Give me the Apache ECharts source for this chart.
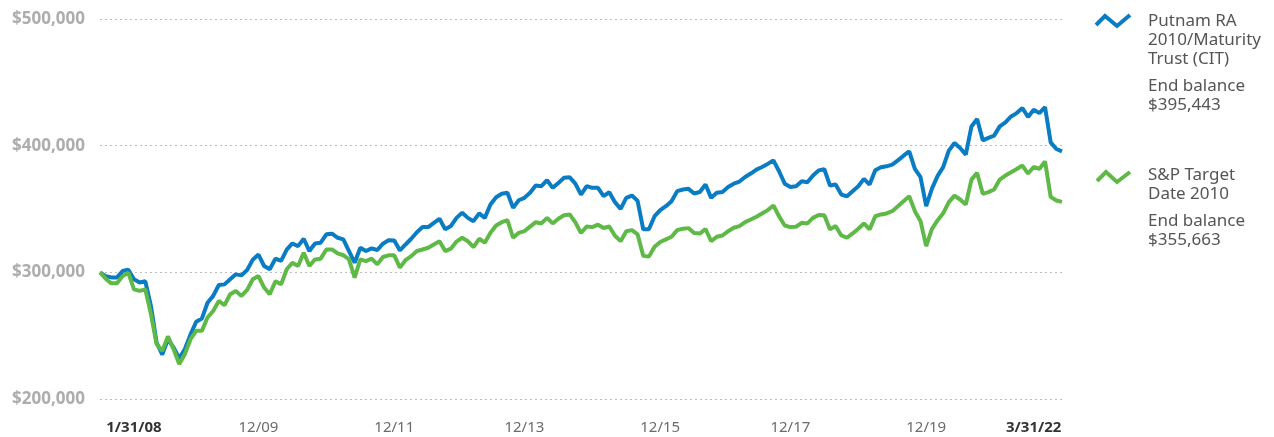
<!DOCTYPE html>
<html lang="en">
<head>
    <meta charset="UTF-8">
    <title>Growth of $300,000</title>
    <script src="https://cdn.jsdelivr.net/npm/echarts@6/dist/echarts.min.js"></script>
    <style>
        html, body { margin: 0; padding: 0; background: #fff; }
    </style>
</head>
<body>
<div id="chart" style="width:1274px;height:437px;"></div>
<script>
    // month-end balances, in thousands of dollars (Jan 2008 .. Mar 2022)
    var putnam = [
        300, 297, 296, 296, 301, 302, 294.5, 292, 293, 273.5, 244.6, 235,
        247, 240.7, 232, 239.4, 251, 261, 263.5, 276, 281.4, 290, 290.5, 294.5,
        298.4, 297.6, 301.8, 310, 314, 305, 302.4, 310.8, 309, 318, 322.8, 320.7,
        326.5, 316.8, 322.8, 323.4, 330, 330.5, 327.3, 326, 316.8, 307.6, 319.4, 316.8,
        318.9, 317.6, 322.6, 325.4, 325.2, 317.3, 322, 326.5, 331.7, 335.7, 335.7, 339.1,
        342.3, 333.9, 336.5, 343, 347, 343, 340.4, 346.5, 343, 353.5, 359.3, 362,
        362.8, 350.9, 356.9, 358.8, 362.8, 368.5, 368, 372.7, 366.7, 370.6, 374.6, 375.1,
        370, 361.4, 368, 366.7, 366.7, 360.1, 363.3, 355.4, 350.1, 358.8, 360.6, 356.5,
        334, 334, 344.3, 349.1, 352.2, 356.2, 364.1, 365.4, 365.9, 362.2, 363.4, 369.3,
        358.8, 362.8, 363.5, 367.4, 370, 371.7, 375.3, 378, 381.1, 383.2, 385.6, 388.4,
        379.8, 370, 367.4, 368, 371.9, 371.1, 376.4, 380.5, 381.4, 368.5, 369.3, 361.4,
        360.1, 364.1, 368, 373.8, 369.3, 380.6, 383, 383.7, 385, 388.4, 392.1, 395.5,
        381.6, 375.1, 352.2, 365.9, 376, 383, 396.1, 402.1, 398.2, 392.9, 415.2, 421,
        404.2, 406.1, 407.9, 415.2, 418.4, 423.1, 425.7, 429.7, 422.6, 428.3, 425.7, 430.5,
        402.6, 397.4, 395.443
    ];
    var benchmark = [
        300, 295, 291.3, 291.3, 297, 299.7, 286.6, 285.3, 286.6, 267, 243.3, 238,
        249.4, 239.4, 227.6, 235.4, 247.2, 253.8, 253.8, 264.3, 269.5, 277.4, 274, 282.7,
        285.3, 281.4, 286.1, 294.5, 297.1, 288, 282.7, 293, 290.5, 302.4, 307.6, 305,
        315.5, 305, 310.2, 310.8, 318, 318, 315, 313.5, 310.2, 295.8, 310.2, 308.9,
        310.8, 306.3, 312.1, 313.4, 313.4, 303.7, 309.7, 312.8, 316.8, 318, 319.4, 322,
        324.6, 316.8, 318.7, 324.3, 327.3, 324.6, 319.9, 326.5, 323.4, 331.2, 337, 339.6,
        341.2, 327.3, 331.2, 332.5, 336.1, 339.6, 338.6, 343, 338.6, 342.3, 345.1, 345.7,
        339.5, 331, 336.2, 335.7, 337.6, 335, 336.2, 328.9, 324.6, 332.5, 333.3, 330,
        313, 312.4, 320.2, 323.9, 326, 328.1, 333.3, 334.4, 334.9, 331, 330.6, 334.2,
        324.6, 328.1, 329.1, 332.5, 335.2, 336.5, 339.6, 341.7, 343.9, 346.5, 349.1, 352.8,
        344.3, 337, 335.7, 336, 339.1, 338.6, 343, 345.3, 345, 333.9, 336.5, 329.1,
        327.3, 330.7, 334.4, 338.6, 333.9, 344.3, 345.7, 346.5, 348.3, 352.2, 356.2, 360.1,
        348.3, 340.4, 320.7, 334.1, 341, 346.6, 355.4, 360.6, 357.5, 353.5, 373.2, 378.5,
        362, 363.3, 365.4, 373.2, 376.4, 379, 381.6, 384.3, 378, 383.2, 381.6, 387.6,
        359.6, 356.7, 355.663
    ];
    var seriesNames = ['Putnam RA 2010/Maturity Trust (CIT)', 'S&P Target Date 2010'];
    var endBalances = ['$395,443', '$355,663'];

    // x tick labels, keyed by the month slot where they sit in the picture
    var tickLabels = {6: '1/31/08', 28: '12/09', 52: '12/11', 75: '12/13',
        99: '12/15', 122: '12/17', 146: '12/19', 165: '3/31/22'};
    var boldTicks = ['1/31/08', '3/31/22'];

    var months = [];
    for (var i = 0; i < putnam.length; i++) {
        var m = i % 12 + 1, y = 8 + Math.floor(i / 12);
        months.push(m + '/' + (y < 10 ? '0' + y : y));
    }

    var blue = '#0a7cc4', green = '#5fb946';
    var font = '"Noto Sans", sans-serif';

    var chart = echarts.init(document.getElementById('chart'));
    var option = {
        animation: false,
        grid: {left: 100, right: 212, top: 19, bottom: 38},
        xAxis: {
            type: 'category',
            data: months,
            boundaryGap: false,
            axisLine: {show: false},
            axisTick: {show: false},
            splitLine: {show: false},
            axisLabel: {
                margin: 21,
                interval: function (idx) { return tickLabels[idx] !== undefined; },
                formatter: function (val, idx) {
                    var t = tickLabels[idx];
                    if (t === undefined) return '';
                    return boldTicks.indexOf(t) >= 0 ? '{b|' + t + '}' : '{n|' + t + '}';
                },
                rich: {
                    b: {fontFamily: font, fontSize: 15, fontWeight: 'bold', color: '#333'},
                    n: {fontFamily: font, fontSize: 15, color: '#6b6b6b'}
                }
            }
        },
        yAxis: {
            type: 'value',
            min: 200,
            max: 500,
            interval: 100,
            axisLine: {show: false},
            axisTick: {show: false},
            axisLabel: {
                margin: 15,
                fontFamily: font,
                fontSize: 17,
                fontWeight: 'bold',
                color: '#adadad',
                formatter: function (v) { return '$' + (v * 1000).toLocaleString('en-US'); }
            },
            splitLine: {lineStyle: {color: '#bdbdbd', type: [2, 3], width: 1.2}}
        },
        series: [
            {
                name: seriesNames[0],
                type: 'line',
                data: putnam,
                showSymbol: false,
                lineStyle: {color: blue, width: 4},
                z: 2
            },
            {
                name: seriesNames[1],
                type: 'line',
                data: benchmark,
                showSymbol: false,
                lineStyle: {color: green, width: 4},
                z: 3
            }
        ],
        graphic: [
            {type: 'polyline', shape: {points: [[1096, 25], [1105, 16], [1117, 26], [1130, 15]]},
                style: {stroke: blue, lineWidth: 4, fill: null}},
            {type: 'text', left: 1148, top: 12,
                style: {text: 'Putnam RA\n2010/Maturity\nTrust (CIT)', font: '17px ' + font,
                    fill: '#555', lineHeight: 19}},
            {type: 'text', left: 1148, top: 77,
                style: {text: 'End balance\n' + endBalances[0], font: '17px ' + font,
                    fill: '#555', lineHeight: 19}},
            {type: 'polyline', shape: {points: [[1097, 181], [1106, 172], [1117, 182], [1130, 172]]},
                style: {stroke: green, lineWidth: 4, fill: null}},
            {type: 'text', left: 1148, top: 166,
                style: {text: 'S&P Target\nDate 2010', font: '17px ' + font,
                    fill: '#555', lineHeight: 19}},
            {type: 'text', left: 1148, top: 212,
                style: {text: 'End balance\n' + endBalances[1], font: '17px ' + font,
                    fill: '#555', lineHeight: 19}}
        ]
    };
    chart.setOption(option);
</script>
</body>
</html>
